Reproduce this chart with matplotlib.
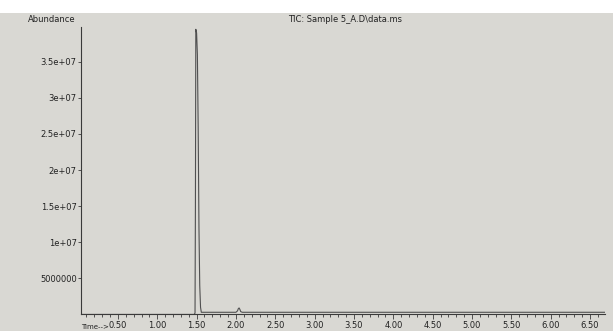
import matplotlib
matplotlib.use("Agg")
import matplotlib.pyplot as plt
from matplotlib.patches import Rectangle
from matplotlib.ticker import MultipleLocator

# Data (time in min, abundance)
time = [0.03, 1.47, 1.48, 1.485, 1.49, 1.50, 1.51, 1.52, 1.53, 1.54, 1.55, 1.56, 1.58,
        1.80, 2.00, 2.02, 2.03, 2.04, 2.05, 2.06, 2.08, 3.00, 4.00, 5.00, 6.00, 6.70]
abundance = [0.0, 0.0, 0.2e6, 1.5e7, 3.95e7, 3.9e7, 3.6e7, 2.6e7, 1.2e7, 4.0e6, 1.0e6, 0.3e6, 0.3e6,
             0.3e6, 0.3e6, 0.5e6, 0.8e6, 0.9e6, 0.7e6, 0.4e6, 0.3e6, 0.3e6, 0.3e6, 0.3e6, 0.3e6, 0.3e6]

xticks = [0.5, 1.0, 1.5, 2.0, 2.5, 3.0, 3.5, 4.0, 4.5, 5.0, 5.5, 6.0, 6.5]
xticklabels = ["0.50", "1.00", "1.50", "2.00", "2.50", "3.00", "3.50", "4.00",
               "4.50", "5.00", "5.50", "6.00", "6.50"]
yticks = [5e6, 1e7, 1.5e7, 2e7, 2.5e7, 3e7, 3.5e7]
yticklabels = ["5000000", "1e+07", "1.5e+07", "2e+07", "2.5e+07", "3e+07", "3.5e+07"]

paper = "#d9d8d3"
ink = "#3a3a3a"

fig = plt.figure(figsize=(6.13, 3.31), dpi=100, facecolor=paper)
# white strip above the paper
fig.patches.append(Rectangle((0, 0.962), 1, 0.04, transform=fig.transFigure,
                             facecolor="white", edgecolor="none", zorder=0))

ax = fig.add_axes([0.132, 0.050, 0.855, 0.868])
ax.set_facecolor("none")
ax.plot(time, abundance, color="#505050", lw=0.8)

ax.set_xlim(0.03, 6.69)
ax.set_ylim(0, 3.98e7)
ax.set_xticks(xticks)
ax.set_xticklabels(xticklabels)
ax.xaxis.set_minor_locator(MultipleLocator(0.1))
ax.set_yticks(yticks)
ax.set_yticklabels(yticklabels)

for s in ["top", "right"]:
    ax.spines[s].set_visible(False)
for s in ["left", "bottom"]:
    ax.spines[s].set_color(ink)
    ax.spines[s].set_linewidth(0.8)

ax.tick_params(axis="both", which="both", direction="out", colors=ink,
               labelsize=6, labelcolor="#222222", width=0.6)
ax.tick_params(axis="x", which="major", length=3.5, pad=1)
ax.tick_params(axis="x", which="minor", length=2.5)
ax.tick_params(axis="y", which="major", length=2, pad=1)

fig.text(0.045, 0.94, "Abundance", fontsize=6, color="#222222", va="center")
fig.text(0.47, 0.94, "TIC: Sample 5_A.D\\data.ms", fontsize=6, color="#222222", va="center")
fig.text(0.133, 0.003, "Time-->", fontsize=5, color="#222222", va="bottom")

fig.savefig("out.png", dpi=100, facecolor=paper)
